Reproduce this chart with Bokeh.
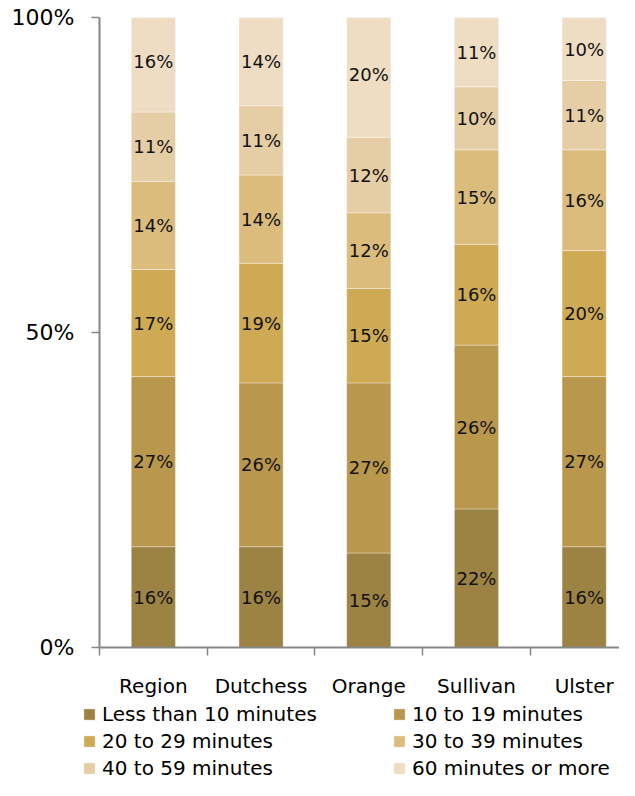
from bokeh.plotting import figure
from bokeh.models import ColumnDataSource, Range1d, FixedTicker, Legend, LegendItem
from bokeh.core.properties import value
from bokeh.embed import file_html
from bokeh.resources import INLINE

categories = ["Region", "Dutchess", "Orange", "Sullivan", "Ulster"]
series_names = ["Less than 10 minutes", "10 to 19 minutes", "20 to 29 minutes",
                "30 to 39 minutes", "40 to 59 minutes", "60 minutes or more"]
less_than_10 = [16, 16, 15, 22, 16]
min_10_19 = [27, 26, 27, 26, 27]
min_20_29 = [17, 19, 15, 16, 20]
min_30_39 = [14, 14, 12, 15, 16]
min_40_59 = [11, 11, 12, 10, 11]
min_60_plus = [16, 14, 20, 11, 10]
y_ticks = [0, 50, 100]
y_tick_labels = ["0%", "50%", "100%"]
y_max = 100  # axis maximum: stacks that round past 100% are cut off there

series = [less_than_10, min_10_19, min_20_29, min_30_39, min_40_59, min_60_plus]
colors = ["#9C8243", "#B9974C", "#CFAA55", "#DBBC7C", "#E5CDA5", "#EEDCC3"]

FONT = "DejaVu Sans"
AXIS_COLOR = "#878787"

# the plot frame spans the whole figure; the axes are pinned at data 0 so
# that tick labels and the legend can sit inside the frame
p = figure(width=619, height=780, output_backend="svg", toolbar_location=None,
           x_range=Range1d(-0.9192, 4.828), y_range=Range1d(-21.11, 102.7),
           min_border_left=0, min_border_top=0, min_border_right=0,
           min_border_bottom=0)
p.grid.visible = False
p.outline_line_color = None
p.background_fill_color = "white"
p.border_fill_color = "white"

xs = [i + 0.5 for i in range(len(categories))]
bottoms = [0] * len(categories)
items = []
for name, vals, col in zip(series_names, series, colors):
    tops = [b + v for b, v in zip(bottoms, vals)]
    mids = [b + v / 2 for b, v in zip(bottoms, vals)]
    src = ColumnDataSource(dict(x=xs, bottom=bottoms,
                                top=[min(t, y_max) for t in tops], mid=mids,
                                label=[f"{v}%" for v in vals]))
    r = p.vbar(x="x", width=0.41, bottom="bottom", top="top", source=src,
               fill_color=col, line_color="white", line_alpha=0.35, line_width=1)
    p.text(x="x", y="mid", text="label", source=src, text_align="center",
           text_baseline="middle", text_font=value(FONT), text_font_size="18px",
           text_color="#111111")
    items.append(LegendItem(label=name, renderers=[r]))
    bottoms = tops

# y axis
ya = p.yaxis[0]
ya.fixed_location = 0
ya.bounds = (0, y_max)
ya.ticker = FixedTicker(ticks=y_ticks, minor_ticks=[])
ya.major_label_overrides = {t: l for t, l in zip(y_ticks, y_tick_labels)}
ya.axis_line_color = AXIS_COLOR
ya.axis_line_width = 2
ya.major_tick_line_color = AXIS_COLOR
ya.major_tick_line_width = 1.5
ya.major_tick_out = 8
ya.major_tick_in = 0
ya.major_label_standoff = 17
ya.major_label_text_font = FONT
ya.major_label_text_font_size = "22px"
ya.major_label_text_color = "black"

# x axis
xa = p.xaxis[0]
xa.fixed_location = 0
xa.bounds = (0, len(categories))
xa.ticker = FixedTicker(ticks=xs, minor_ticks=list(range(len(categories) + 1)))
xa.major_label_overrides = {x: c for x, c in zip(xs, categories)}
xa.axis_line_color = AXIS_COLOR
xa.axis_line_width = 2
xa.major_tick_out = 0
xa.major_tick_in = 0
xa.minor_tick_line_color = AXIS_COLOR
xa.minor_tick_line_width = 1.5
xa.minor_tick_out = 8
xa.minor_tick_in = 0
xa.major_label_standoff = 18
xa.major_label_text_font = FONT
xa.major_label_text_font_size = "20px"
xa.major_label_text_color = "black"

# legend: two single-column legends placed under the category labels
common = dict(orientation="vertical", glyph_width=14, glyph_height=14,
              label_standoff=6, label_height=20, spacing=3, padding=0, margin=0,
              border_line_color=None, background_fill_alpha=0,
              label_text_font=FONT, label_text_font_size="20px",
              label_text_color="black")
leg1 = Legend(items=[items[i] for i in (0, 2, 4)], location=(82, 0), **common)
leg2 = Legend(items=[items[i] for i in (1, 3, 5)], location=(392, 0), **common)
p.add_layout(leg1, "center")
p.add_layout(leg2, "center")

open("out.html", "w").write(file_html(p, INLINE))
